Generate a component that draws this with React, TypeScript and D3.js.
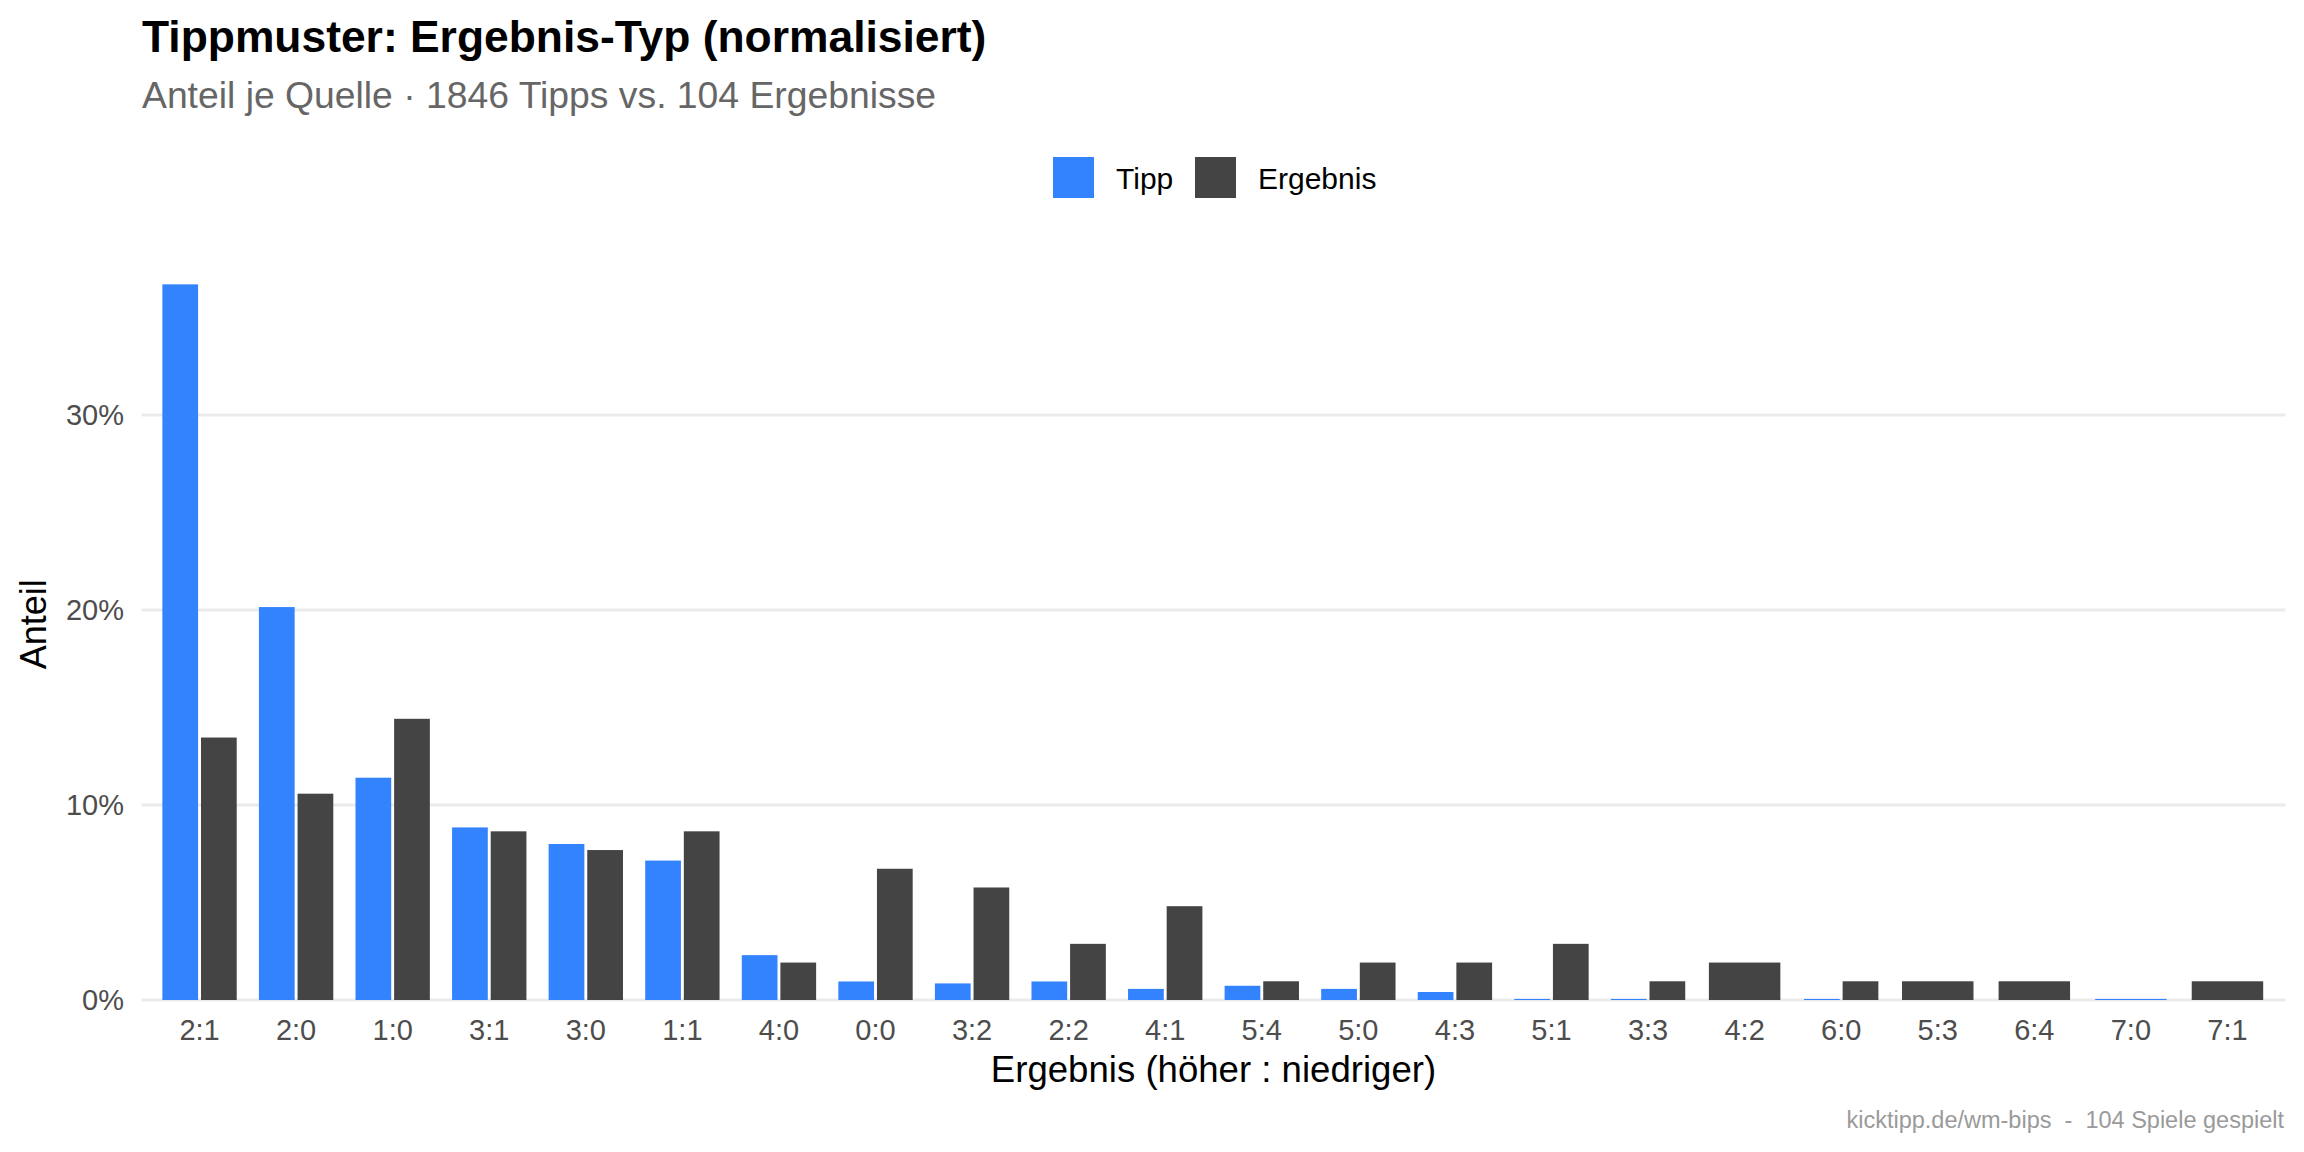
import { scaleBand, scaleLinear } from 'd3'

const categories = [
  '2:1', '2:0', '1:0', '3:1', '3:0', '1:1', '4:0', '0:0', '3:2', '2:2', '4:1',
  '5:4', '5:0', '4:3', '5:1', '3:3', '4:2', '6:0', '5:3', '6:4', '7:0', '7:1',
]

// Anteil in Prozent, null = kein Eintrag
const tippShare: (number | null)[] = [
  36.7, 20.15, 11.4, 8.85, 8.0, 7.15, 2.3, 0.95, 0.85, 0.95, 0.57,
  0.73, 0.57, 0.41, 0.054, 0.054, null, 0.054, null, null, 0.054, null,
]

const ergebnisShare: (number | null)[] = [
  13.46, 10.58, 14.42, 8.65, 7.69, 8.65, 1.92, 6.73, 5.77, 2.88, 4.81,
  0.96, 1.92, 1.92, 2.88, 0.96, 1.92, 0.96, 0.96, 0.96, null, 0.96,
]

const seriesNames = ['Tipp', 'Ergebnis']
const seriesColors = ['#3383ff', '#444444']
const yTicks = [0, 10, 20, 30]

const width = 2304
const height = 1152
const panel = { left: 141.6, right: 2285.4, bottom: 1000 }
const font = "'Liberation Sans', Arial, Helvetica, sans-serif"

function App() {
  const maxShare = Math.max(...tippShare.map((v) => v ?? 0), ...ergebnisShare.map((v) => v ?? 0))
  const panelTop = panel.bottom - maxShare * 1.05 * 19.5

  const xScale = scaleBand()
    .domain(categories)
    .range([panel.left, panel.right])
    .paddingInner(0.2)
    .paddingOuter(0.2)

  const yScale = scaleLinear()
    .domain([0, maxShare * 1.05])
    .range([panel.bottom, panelTop])

  const panelCenterX = (panel.left + panel.right) / 2
  const panelCenterY = (panelTop + panel.bottom) / 2

  return (
    <svg
      width={width}
      height={height}
      viewBox={`0 0 ${width} ${height}`}
      style={{ position: 'absolute', left: 0, top: 0, background: '#fff' }}
      fontFamily={font}
    >
      <rect x={0} y={0} width={width} height={height} fill="#fff" />

      <text x={142} y={52} fontSize={44.4} fontWeight="bold" fill="#000">
        Tippmuster: Ergebnis-Typ (normalisiert)
      </text>
      <text x={142} y={108} fontSize={37.3} fill="#666666">
        Anteil je Quelle · 1846 Tipps vs. 104 Ergebnisse
      </text>

      {seriesNames.map((name, i) => {
        const x = i === 0 ? 1053 : 1195
        return (
          <g key={name}>
            <rect x={x} y={157} width={41} height={41} fill={seriesColors[i]} />
            <text x={x + 63} y={189} fontSize={30} fill="#000">
              {name}
            </text>
          </g>
        )
      })}

      {yTicks.map((tick) => (
        <line
          key={`grid-${tick}`}
          x1={panel.left}
          x2={panel.right}
          y1={yScale(tick)}
          y2={yScale(tick)}
          stroke="#ebebeb"
          strokeWidth={3}
        />
      ))}

      {categories.map((cat, i) => {
        const values = [tippShare[i], ergebnisShare[i]]
        const present = seriesNames.filter((_, s) => values[s] !== null)
        const inner = scaleBand()
          .domain(present)
          .range([0, xScale.bandwidth()])
          .paddingInner(0.075)
          .paddingOuter(0.0375)
        const x0 = xScale(cat) ?? 0

        return seriesNames.map((name, s) => {
          const v = values[s]
          if (v === null) return null
          const y = yScale(v)
          return (
            <rect
              key={`${cat}-${name}`}
              x={x0 + (inner(name) ?? 0)}
              y={y}
              width={inner.bandwidth()}
              height={panel.bottom - y}
              fill={seriesColors[s]}
            />
          )
        })
      })}

      {categories.map((cat) => (
        <text
          key={`xl-${cat}`}
          x={(xScale(cat) ?? 0) + xScale.bandwidth() / 2}
          y={1040}
          fontSize={29}
          fill="#4d4d4d"
          textAnchor="middle"
        >
          {cat}
        </text>
      ))}

      {yTicks.map((tick) => (
        <text
          key={`yl-${tick}`}
          x={124}
          y={yScale(tick)}
          dy="0.36em"
          fontSize={29}
          fill="#4d4d4d"
          textAnchor="end"
        >
          {`${tick}%`}
        </text>
      ))}

      <text
        x={panelCenterX}
        y={1082}
        fontSize={36.6}
        fill="#000"
        textAnchor="middle"
      >
        Ergebnis (höher : niedriger)
      </text>

      <text
        transform={`translate(46, ${panelCenterY}) rotate(-90)`}
        fontSize={36}
        fill="#000"
        textAnchor="middle"
      >
        Anteil
      </text>

      <text
        x={2284}
        y={1128}
        fontSize={23.5}
        fill="#9a9a9a"
        textAnchor="end"
        style={{ whiteSpace: 'pre' }}
      >
        {'kicktipp.de/wm-bips  -  104 Spiele gespielt'}
      </text>
    </svg>
  )
}

export default App
